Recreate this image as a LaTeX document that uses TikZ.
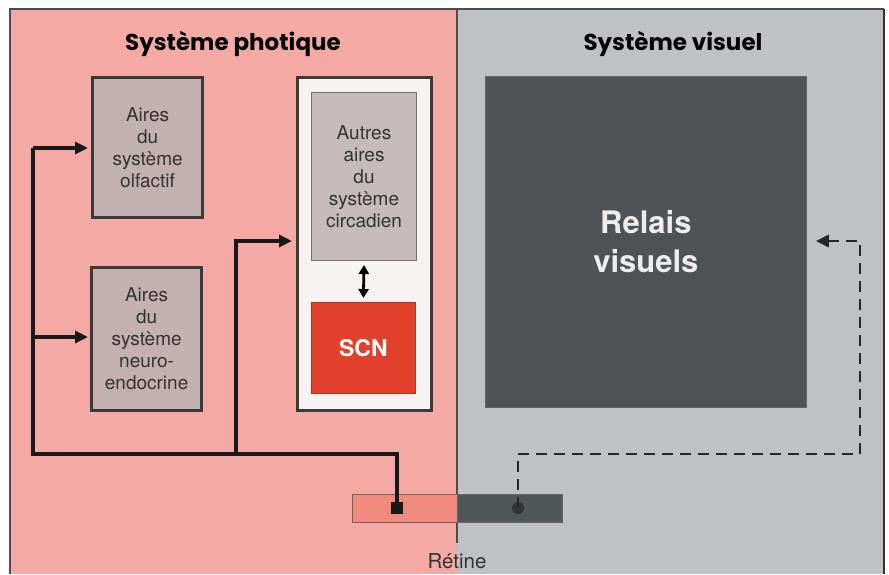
\documentclass[tikz,border=0pt]{standalone}
\usepackage{fontspec}
\setmainfont{TeX Gyre Heros}
\newfontfamily\titlefont{Poppins}
\usetikzlibrary{arrows.meta}
\definecolor{pinkbg}{HTML}{F4A9A5}
\definecolor{graybg}{HTML}{BFC2C5}
\definecolor{airefill}{HTML}{C3B1B1}
\definecolor{circfill}{HTML}{C6BBBB}
\definecolor{whitefill}{HTML}{F7F3F3}
\definecolor{scnred}{HTML}{E0402C}
\definecolor{relaisfill}{HTML}{505355}
\definecolor{retpink}{HTML}{EF8A7C}
\definecolor{retgray}{HTML}{4F5759}
\definecolor{txtgray}{HTML}{333333}
\definecolor{boxline}{HTML}{3A3A3A}
\tikzset{
  x=1pt, y=-1pt,
  boxtext/.style={font=\fontsize{19}{22}\selectfont, text=txtgray, align=center},
  airebox/.style={draw=boxline, line width=3.2pt, fill=airefill, anchor=north west, inner sep=0pt, boxtext},
  conn/.style={line width=3.4pt, draw=black!90},
  arr/.style={conn, -{Triangle[length=13pt,width=12pt]}},
  dasharr/.style={line width=2.8pt, draw=black!85, dash pattern=on 11pt off 7pt, -{Triangle[length=13pt,width=12pt]}},
  titletext/.style={font=\titlefont\bfseries\fontsize{23}{26}\selectfont, text=black},
}
\begin{document}
\begin{tikzpicture}
\useasboundingbox (0,0) rectangle (889,574);
% backgrounds
\fill[pinkbg] (10,9) rectangle (457,574);
\fill[graybg] (457,9) rectangle (884,574);
\draw[line width=1.3pt, draw=black!70] (10,574) -- (10,9) -- (884,9);
\draw[line width=2pt, draw=black!80] (884,9) -- (884,574);
\draw[line width=1.2pt, draw=black!70] (457,9) -- (457,543);
% titles
\node[titletext] (t1) at (233,44) {Système photique};
\node[titletext] (t2) at (673,44) {Système visuel};
% left boxes
\node[airebox, minimum width=110pt, minimum height=140pt] (olf) at (91,76) {Aires\\du\\système\\olfactif};
\node[airebox, minimum width=110pt, minimum height=143pt] (neu) at (90,266) {Aires\\du\\système\\neuro-\\endocrine};
% circadian block
\node[draw=boxline, line width=3.2pt, fill=whitefill, anchor=north west, minimum width=134pt, minimum height=333pt, inner sep=0pt] (outer) at (296,76) {};
\node[draw=black!55, line width=1pt, fill=circfill, anchor=north west, minimum width=105pt, minimum height=168pt, inner sep=0pt, boxtext] (circ) at (311,92) {Autres\\aires\\du\\système\\circadien};
\node[draw=scnred!80!black, line width=0.8pt, fill=scnred, anchor=north west, minimum width=104pt, minimum height=91pt, inner sep=0pt, text=white, font=\bfseries\fontsize{23}{26}\selectfont] (scn) at (311,302) {SCN};
\draw[line width=2.8pt, {Triangle[length=9pt,width=10pt]}-{Triangle[length=9pt,width=10pt]}] (circ.south) ++(0,4) coordinate (da) (scn.north) ++(0,-4) coordinate (db) (da) -- (db);
% relais visuels
\node[draw=black!60, line width=0.8pt, fill=relaisfill, anchor=north west, minimum width=321pt, minimum height=331pt, inner sep=0pt, align=center, text=white!93!black, font=\bfseries\fontsize{31}{39}\selectfont] (rel) at (485,76) {Relais\\visuels};
% retina
\node[draw=black!60, line width=0.8pt, fill=retpink, anchor=north west, minimum width=105pt, minimum height=28pt, inner sep=0pt] (retl) at (352,494) {};
\node[draw=black!60, line width=0.8pt, fill=retgray, anchor=north west, minimum width=105pt, minimum height=28pt, inner sep=0pt] (retr) at (457,494) {};
\node[fill=black!90, minimum size=12pt, inner sep=0pt] (sq) at (397,508) {};
\node[circle, fill=black!80, minimum size=12pt, inner sep=0pt] (dot) at (518,508) {};
\node[font=\fontsize{20.5}{24}\selectfont, text=txtgray] (ret) at (457,561) {Rétine};
% connectors
\coordinate (j1) at (33,454);
\coordinate (j2) at (236,454);
\coordinate (top1) at (33,148);
\coordinate (up2) at (236,241);
\draw[conn, line join=miter] (sq.center) -- (sq.center |- j1) -- (j1) -- (top1);
\draw[arr, shorten >=3pt] (top1) -- (top1 -| olf.west);
\draw[arr, shorten >=2pt] (33,337) coordinate (b2) -- (b2 -| neu.west);
\draw[arr, shorten >=4pt, line join=miter] (j2) -- (up2) -- (up2 -| outer.west);
\coordinate (dc1) at (860,454);
\coordinate (dc2) at (860,241);
\draw[dasharr, shorten >=9pt] (dot.center) -- (dot.center |- dc1) -- (dc1) -- (dc2) -- (dc2 -| rel.east);
\end{tikzpicture}
\end{document}
